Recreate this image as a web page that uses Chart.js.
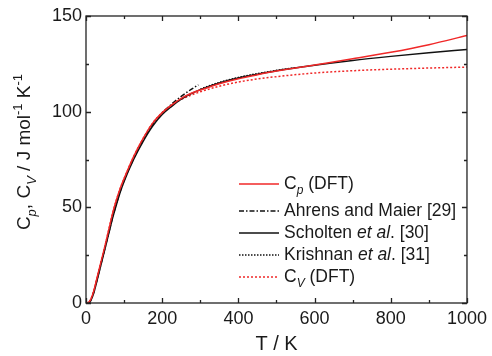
<!DOCTYPE html>
<html>
<head>
<meta charset="utf-8">
<script src="https://cdn.jsdelivr.net/npm/chart.js@4/dist/chart.umd.min.js"></script>
<style>
  html, body { margin: 0; padding: 0; background: #fff; }
</style>
</head>
<body>
<canvas id="cpChart" width="492" height="356"></canvas>
<script>
// Temperatures (K) and heat capacities (J mol-1 K-1)
const tempDft = [0, 10, 20, 30, 40, 50, 60, 70, 80, 90, 100, 125, 150, 175, 200, 225, 250, 275, 300, 350, 400, 450, 500, 600, 700, 800, 900, 1000];
const cpDft   = [0, 1, 6, 14, 22, 30, 38.5, 47, 54, 60, 65, 76.5, 86, 94, 99.5, 103.5, 107, 109.5, 111.3, 114.6, 117.2, 119.3, 121.2, 124.4, 127.6, 131, 135, 139.8];
const cvDft   = [0, 1, 6, 14, 22, 30, 38.5, 47, 54, 60, 65, 76.5, 86, 94, 99.5, 103.3, 106.4, 108.6, 110.4, 113.3, 115.5, 117.1, 118.3, 120.2, 121.4, 122.2, 122.8, 123.3];

const tempAhrens = [5, 10, 20, 30, 40, 50, 60, 70, 80, 90, 100, 125, 150, 175, 200, 225, 250, 275, 295];
const cpAhrens   = [0, 0.5, 5.5, 13, 21, 29, 37, 45, 52, 58.5, 64, 75.5, 85.3, 93.3, 99.3, 104, 108, 111.5, 114];

const tempScholten = [5, 10, 20, 30, 40, 50, 60, 70, 80, 90, 100, 125, 150, 175, 200, 225, 250, 275, 300, 350, 400, 450, 500, 600, 700, 800, 900, 1000];
const cpScholten   = [0, 0.5, 5, 12.5, 20.5, 28.5, 36.5, 44.5, 51.5, 58, 63.5, 75, 84.5, 92.5, 98.5, 102.8, 106.5, 109.3, 111.5, 115, 117.6, 119.6, 121.4, 124.3, 126.8, 128.9, 130.8, 132.5];

const tempKrishnan = [300, 350, 400, 450, 500, 550];
const cpKrishnan   = [111.8, 115.3, 117.9, 119.9, 121.6, 123];

const xTicks = [0, 200, 400, 600, 800, 1000];
const yTicks = [0, 50, 100, 150];

const FONT = '"Liberation Sans", Arial, sans-serif';
const RED = 'rgb(240, 40, 40)';
const BLACK = '#111';

const pts = (xs, ys) => xs.map((t, i) => ({ x: t, y: ys[i] }));

// text pieces: [text, kind] kind: '' normal, 'i' italic, 'sub' italic subscript, 'sup' superscript
function fontFor(kind, size) {
  if (kind === 'sub') return `italic ${Math.round(size * 0.68)}px ${FONT}`;
  if (kind === 'sup') return `${Math.round(size * 0.68)}px ${FONT}`;
  if (kind === 'i') return `italic ${size}px ${FONT}`;
  return `${size}px ${FONT}`;
}
function richWidth(ctx, parts, size) {
  let w = 0;
  parts.forEach(([t, k]) => {
    ctx.font = fontFor(k, size);
    w += ctx.measureText(t).width;
  });
  return w;
}
function richText(ctx, parts, x, y, size) {
  let cx = x;
  ctx.textBaseline = 'middle';
  ctx.textAlign = 'left';
  parts.forEach(([t, k]) => {
    ctx.font = fontFor(k, size);
    let dy = 0;
    if (k === 'sub') dy = size * 0.4;
    if (k === 'sup') dy = -size * 0.35;
    ctx.fillText(t, cx, y + dy);
    cx += ctx.measureText(t).width;
  });
}

const legendRows = [
  { parts: [['C', ''], ['p', 'sub'], [' (DFT)', '']], color: RED, dash: [], y: 184 },
  { parts: [['Ahrens and Maier [29]', '']], color: BLACK, dash: [5, 2, 1.5, 2], y: 211 },
  { parts: [['Scholten ', ''], ['et al', 'i'], ['. [30]', '']], color: BLACK, dash: [], y: 233 },
  { parts: [['Krishnan ', ''], ['et al', 'i'], ['. [31]', '']], color: BLACK, dash: [1.5, 1.5], y: 255 },
  { parts: [['C', ''], ['V', 'sub'], [' (DFT)', '']], color: RED, dash: [2, 2], y: 277 }
];

const yTitle = [['C', ''], ['p', 'sub'], [', C', ''], ['V', 'sub'], [' / J mol', ''], ['-1', 'sup'], [' K', ''], ['-1', 'sup']];

const framePlugin = {
  id: 'frame',
  afterDraw(chart) {
    const { ctx, chartArea: a, scales: { x, y } } = chart;
    ctx.save();
    ctx.strokeStyle = '#222';
    ctx.lineWidth = 1.3;
    ctx.setLineDash([]);
    ctx.strokeRect(a.left, a.top, a.right - a.left, a.bottom - a.top);
    ctx.beginPath();
    x.ticks.forEach(t => {
      const px = Math.round(x.getPixelForValue(t.value)) + 0.5;
      const len = xTicks.includes(t.value) ? 5 : 3;
      ctx.moveTo(px, a.bottom); ctx.lineTo(px, a.bottom - len);
      ctx.moveTo(px, a.top); ctx.lineTo(px, a.top + len);
    });
    y.ticks.forEach(t => {
      const py = Math.round(y.getPixelForValue(t.value)) + 0.5;
      const len = yTicks.includes(t.value) ? 5 : 3;
      ctx.moveTo(a.left, py); ctx.lineTo(a.left + len, py);
      ctx.moveTo(a.right, py); ctx.lineTo(a.right - len, py);
    });
    ctx.stroke();

    // legend
    legendRows.forEach(r => {
      ctx.strokeStyle = r.color;
      ctx.lineWidth = 1.5;
      ctx.setLineDash(r.dash);
      ctx.beginPath();
      ctx.moveTo(239, r.y); ctx.lineTo(279, r.y);
      ctx.stroke();
      ctx.fillStyle = '#1a1a1a';
      richText(ctx, r.parts, 284, r.y, 17.5);
    });

    // y axis title
    ctx.setLineDash([]);
    ctx.translate(25, 152);
    ctx.rotate(-Math.PI / 2);
    const w = richWidth(ctx, yTitle, 19);
    ctx.fillStyle = '#1a1a1a';
    richText(ctx, yTitle, -w / 2, 0, 19);
    ctx.restore();
  }
};

const line = (label, xs, ys, color, dash) => ({
  label,
  data: pts(xs, ys),
  borderColor: color,
  backgroundColor: color,
  borderWidth: 1.5,
  borderDash: dash,
  pointRadius: 0,
  cubicInterpolationMode: 'monotone',
  fill: false
});

new Chart(document.getElementById('cpChart'), {
  type: 'line',
  data: {
    datasets: [
      line('Cp (DFT)', tempDft, cpDft, RED, []),
      line('Ahrens and Maier [29]', tempAhrens, cpAhrens, BLACK, [5, 2, 1.5, 2]),
      line('Scholten et al. [30]', tempScholten, cpScholten, BLACK, []),
      line('Krishnan et al. [31]', tempKrishnan, cpKrishnan, BLACK, [1.5, 1.5]),
      line('Cv (DFT)', tempDft, cvDft, RED, [2, 2])
    ]
  },
  options: {
    responsive: false,
    animation: false,
    layout: { padding: { left: 0, top: 16, right: 20, bottom: 0 } },
    plugins: { legend: { display: false }, tooltip: { enabled: false } },
    scales: {
      x: {
        type: 'linear',
        min: 0,
        max: 1000,
        grid: { display: false, drawTicks: false },
        border: { display: false },
        afterFit: s => { s.height = 53; },
        afterBuildTicks: s => { s.ticks = []; for (let v = 0; v <= 1000; v += 100) s.ticks.push({ value: v }); },
        ticks: {
          autoSkip: false,
          maxRotation: 0,
          padding: 5,
          color: '#1a1a1a',
          font: { family: FONT, size: 18 },
          callback: v => xTicks.includes(v) ? String(v) : ''
        },
        title: {
          display: true,
          text: 'T / K',
          color: '#1a1a1a',
          font: { family: FONT, size: 20 },
          padding: { top: 0, bottom: 0 }
        }
      },
      y: {
        min: 0,
        max: 150,
        grid: { display: false, drawTicks: false },
        border: { display: false },
        afterFit: s => { s.width = 86; },
        afterBuildTicks: s => { s.ticks = []; for (let v = 0; v <= 150; v += 25) s.ticks.push({ value: v }); },
        ticks: {
          autoSkip: false,
          padding: 4,
          color: '#1a1a1a',
          font: { family: FONT, size: 18 },
          callback: v => yTicks.includes(v) ? String(v) : ''
        }
      }
    }
  },
  plugins: [framePlugin]
});
</script>
</body>
</html>
